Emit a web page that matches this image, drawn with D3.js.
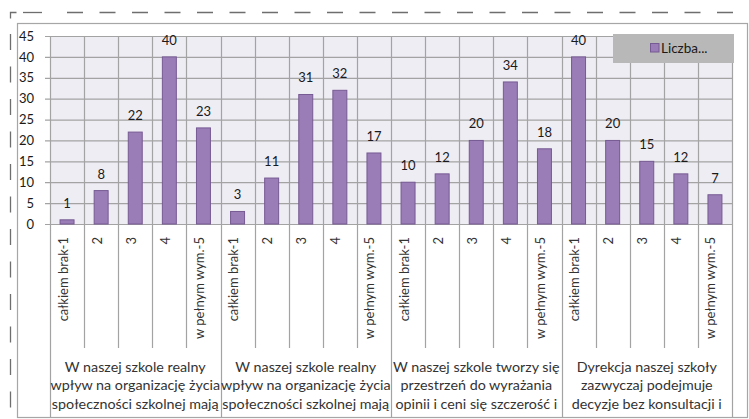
<!DOCTYPE html>
<html>
<head>
<meta charset="utf-8">
<script src="https://cdn.jsdelivr.net/npm/d3@7"></script>
<style>
  html, body { margin: 0; padding: 0; background: #ffffff; }
  svg { display: block; font-family: Lato, "Open Sans", sans-serif; }
</style>
</head>
<body>
<svg id="chart" width="749" height="419"></svg>
<script>
// Answer scale shown under every bar
const answers = ["całkiem brak-1", "2", "3", "4", "w pełnym wym.-5"];

// Statement for each group (wrapped text, lines as they appear)
const groupLabels = [
  ["W naszej szkole realny", "wpływ na organizację życia", "społeczności szkolnej mają"],
  ["W naszej szkole realny", "wpływ na organizację życia", "społeczności szkolnej mają"],
  ["W naszej szkole tworzy się", "przestrzeń do wyrażania", "opinii i ceni się szczerość i"],
  ["Dyrekcja naszej szkoły", "zazwyczaj podejmuje", "decyzje bez konsultacji i"]
];

// Number of answers (Liczba) per statement, per answer
const group1 = [1, 8, 22, 40, 23];
const group2 = [3, 11, 31, 32, 17];
const group3 = [10, 12, 20, 34, 18];
const group4 = [40, 20, 15, 12, 7];

const yTicks = [0, 5, 10, 15, 20, 25, 30, 35, 40, 45];
const seriesName = "Liczba...";

const groupValues = [group1, group2, group3, group4];
const rows = [];
groupValues.forEach((vals, g) => {
  vals.forEach((v, i) => rows.push({ key: g * answers.length + i, group: g, answer: answers[i], value: v }));
});

const svg = d3.select("#chart");
const W = 749, H = 419;

const plot = { left: 50, right: 732, top: 36, bottom: 224 };
const frame = { left: 17, top: 23, right: 747, bottom: 417 };
const tickBottom = 348;

const x = d3.scaleBand()
  .domain(rows.map(d => d.key))
  .range([plot.left, plot.right])
  .padding(0);

const y = d3.scaleLinear()
  .domain([0, 45])
  .range([plot.bottom, plot.top]);

const gridColor = "#a3a3a3";
const barFill = "#9a7db6";
const barStroke = "#765a93";

// Dashed outline around the whole object
const dash = svg.append("g").attr("stroke", "#6e6e6e").attr("stroke-width", 1.3).attr("fill", "none");
dash.append("path").attr("d", "M10.5,18.5 V12.5 H16.5");
dash.append("line").attr("x1", 23).attr("x2", 42).attr("y1", 12.5).attr("y2", 12.5);
dash.append("line").attr("x1", 67).attr("x2", W).attr("y1", 12.5).attr("y2", 12.5)
  .attr("stroke-dasharray", "16 16.5");
dash.append("line").attr("x1", 10.5).attr("x2", 10.5).attr("y1", 34).attr("y2", H)
  .attr("stroke-dasharray", "16 16.5");

// Chart area frame
svg.append("rect")
  .attr("x", frame.left + 0.5).attr("y", frame.top + 0.5)
  .attr("width", frame.right - frame.left).attr("height", frame.bottom - frame.top)
  .attr("fill", "#ffffff").attr("stroke", "#a6a6a6").attr("stroke-width", 1.2);

// Plot background
svg.append("rect")
  .attr("x", plot.left).attr("y", plot.top)
  .attr("width", plot.right - plot.left).attr("height", plot.bottom - plot.top)
  .attr("fill", "#efedf4");

// Horizontal gridlines via the y axis
const yg = svg.append("g")
  .attr("transform", `translate(${plot.right},0)`)
  .call(d3.axisLeft(y).tickValues(yTicks).tickSize(plot.right - plot.left + 5).tickFormat(""));
yg.select(".domain").remove();
yg.selectAll(".tick line").attr("stroke", gridColor).attr("stroke-width", 1.2);

// Y tick labels
svg.append("g").selectAll("text")
  .data(yTicks)
  .join("text")
  .attr("x", 34)
  .attr("y", d => y(d))
  .attr("dy", "0.36em")
  .attr("text-anchor", "end")
  .attr("font-size", 13)
  .attr("fill", "#1a1a1a")
  .text(d => d);

// Vertical gridlines at band boundaries; group boundaries run to the bottom of the frame
const boundaries = d3.range(rows.length + 1);
const bx = i => Math.round(i < rows.length ? x(i) : x(rows.length - 1) + x.bandwidth()) + 0.5;
svg.append("g").selectAll("line")
  .data(boundaries)
  .join("line")
  .attr("x1", bx)
  .attr("x2", bx)
  .attr("y1", plot.top)
  .attr("y2", i => i % answers.length === 0 ? frame.bottom : tickBottom)
  .attr("stroke", gridColor)
  .attr("stroke-width", 1.2);

// Bars
const barW = x.bandwidth() * 0.41;
svg.append("g").selectAll("rect")
  .data(rows)
  .join("rect")
  .attr("x", d => x(d.key) + (x.bandwidth() - barW) / 2)
  .attr("y", d => y(d.value))
  .attr("width", barW)
  .attr("height", d => y(0) - y(d.value))
  .attr("fill", barFill)
  .attr("stroke", barStroke)
  .attr("stroke-width", 1);

// Value labels
svg.append("g").selectAll("text")
  .data(rows)
  .join("text")
  .attr("x", d => x(d.key) + x.bandwidth() / 2)
  .attr("y", d => y(d.value) - 12)
  .attr("text-anchor", "middle")
  .attr("font-size", 13)
  .attr("fill", "#1a1a1a")
  .text(d => d.value);

// Answer labels, rotated
svg.append("g").selectAll("text")
  .data(rows)
  .join("text")
  .attr("transform", d => `translate(${x(d.key) + x.bandwidth() / 2 + 0.5},${plot.bottom + 13}) rotate(-90)`)
  .attr("text-anchor", "end")
  .attr("font-size", 13)
  .attr("fill", "#333333")
  .text(d => d.answer);

// Group labels (wrapped, clipped by the frame)
svg.append("defs").append("clipPath").attr("id", "frameClip")
  .append("rect").attr("x", frame.left).attr("y", frame.top)
  .attr("width", frame.right - frame.left).attr("height", frame.bottom - frame.top);

const groupW = x.bandwidth() * answers.length;
const gl = svg.append("g").attr("clip-path", "url(#frameClip)");
groupLabels.forEach((lines, g) => {
  const cx = x(g * answers.length) + groupW / 2;
  gl.append("text")
    .attr("x", cx)
    .attr("text-anchor", "middle")
    .attr("font-size", 14.3)
    .attr("fill", "#333333")
    .selectAll("tspan")
    .data(lines)
    .join("tspan")
    .attr("x", cx)
    .attr("y", (d, i) => 371.5 + i * 18.7)
    .text(d => d);
});

// Legend
const legend = svg.append("g");
legend.append("rect")
  .attr("x", 613).attr("y", 34).attr("width", 121).attr("height", 29)
  .attr("fill", "#b8b8b8");
legend.append("rect")
  .attr("x", 650.5).attr("y", 43.5).attr("width", 8.5).attr("height", 8.5)
  .attr("fill", barFill).attr("stroke", barStroke).attr("stroke-width", 1);
legend.append("text")
  .attr("x", 661).attr("y", 48).attr("dy", "0.36em")
  .attr("font-size", 13.5)
  .attr("fill", "#1a1a1a")
  .text(seriesName);
</script>
</body>
</html>
